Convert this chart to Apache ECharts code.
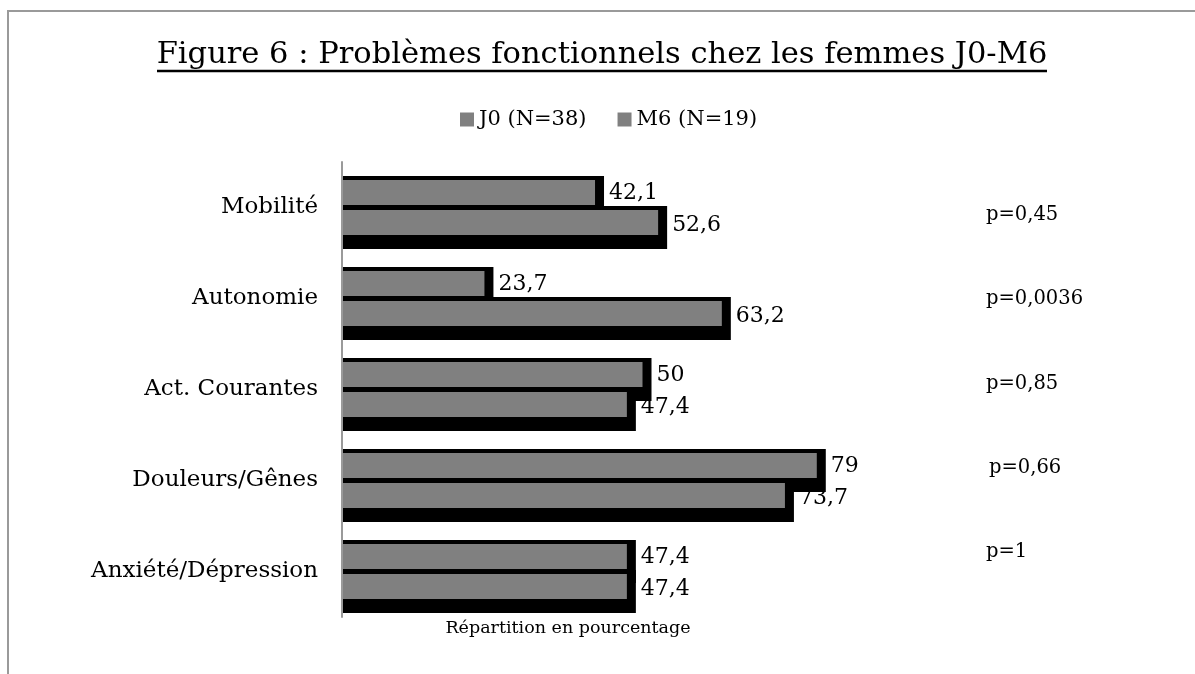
<!DOCTYPE html>
<html>
<head>
<meta charset="utf-8">
<script src="https://cdn.jsdelivr.net/npm/echarts@6/dist/echarts.min.js"></script>
<style>
  html, body { margin: 0; padding: 0; background: #fff; }
  #chart { width: 1195px; height: 674px; }
</style>
</head>
<body>
<div id="chart"></div>
<script>
// catégories (du haut vers le bas)
const categories = ['Mobilité', 'Autonomie', 'Act. Courantes', 'Douleurs/Gênes', 'Anxiété/Dépression'];
const seriesNames = ['J0 (N=38)', 'M6 (N=19)'];
const j0Values = [42.1, 23.7, 50, 79, 47.4];
const m6Values = [52.6, 63.2, 47.4, 73.7, 47.4];
const pValues = ['p=0,45', 'p=0,0036', 'p=0,85', 'p=0,66', 'p=1'];

const FONT = 'DejaVu Serif';

function fmt(v) {
    return String(v).replace('.', ',');
}

// barre grise + "ombre" noire décalée, dessinée avec les échelles de l'axe
function makeRender(idx) {
    return function (params, api) {
        const cat = api.value(1);
        const val = api.value(0);
        const start = api.coord([0, cat]);
        const end = api.coord([val, cat]);
        const band = api.size([0, 1])[1];
        const barH = band * 0.275;
        const off = (idx === 0 ? -1 : 1) * band * 0.165;
        const cy = start[1] + off;
        const y0 = cy - barH / 2;
        const w = end[0] - start[0];
        return {
            type: 'group',
            children: [
                {
                    type: 'rect',
                    shape: { x: start[0], y: y0 - 4, width: w + 9, height: barH + 18 },
                    style: { fill: '#000' }
                },
                {
                    type: 'rect',
                    shape: { x: start[0], y: y0, width: w, height: barH },
                    style: { fill: '#808080' }
                },
                {
                    type: 'text',
                    style: {
                        text: fmt(val),
                        x: end[0] + 14,
                        y: cy + (idx === 0 ? 1 : 3),
                        verticalAlign: 'middle',
                        align: 'left',
                        fill: '#000',
                        font: '22px "' + FONT + '"'
                    },
                    z2: 10
                }
            ]
        };
    };
}

const chart = echarts.init(document.getElementById('chart'));

const pTexts = pValues.map(function (p, i) {
    return {
        type: 'text',
        style: {
            text: p,
            x: i === 3 ? 989 : 986,
            y: 215 + 84.3 * i,
            verticalAlign: 'middle',
            fill: '#000',
            font: '19.5px "' + FONT + '"'
        }
    };
});

chart.setOption({
    backgroundColor: '#fff',
    animation: false,
    legend: {
        left: 455,
        top: 104,
        icon: 'rect',
        itemWidth: 14,
        itemHeight: 14,
        itemGap: 31,
        textStyle: { fontFamily: FONT, fontSize: 21, color: '#000' },
        data: seriesNames.map(function (n) {
            return { name: n, itemStyle: { color: '#808080' } };
        })
    },
    grid: { left: 342, top: 162, width: 601, height: 455 },
    xAxis: {
        type: 'value',
        min: 0,
        max: 100,
        show: false
    },
    yAxis: {
        type: 'category',
        data: categories,
        inverse: true,
        z: 5,
        axisLine: { show: true, lineStyle: { color: '#9a9a9a', width: 2 } },
        axisTick: { show: false },
        axisLabel: { margin: 24, color: '#000', fontFamily: FONT, fontSize: 23 }
    },
    graphic: [
        {
            type: 'rect',
            shape: { x: 8, y: 11, width: 1200, height: 700 },
            style: { fill: 'none', stroke: '#9a9a9a', lineWidth: 2 },
            silent: true
        },
        {
            type: 'text',
            style: {
                text: 'Figure 6 : Problèmes fonctionnels chez les femmes J0-M6',
                x: 602,
                y: 55,
                align: 'center',
                verticalAlign: 'middle',
                fill: '#000',
                font: '30.5px "' + FONT + '"'
            }
        },
        {
            type: 'line',
            shape: { x1: 157, y1: 71, x2: 1047, y2: 71 },
            style: { stroke: '#000', lineWidth: 2.5 }
        },
        {
            type: 'text',
            style: {
                text: 'Répartition en pourcentage',
                x: 568,
                y: 628,
                align: 'center',
                verticalAlign: 'middle',
                fill: '#000',
                font: '17.5px "' + FONT + '"'
            }
        }
    ].concat(pTexts),
    series: [
        {
            name: seriesNames[0],
            type: 'custom',
            itemStyle: { color: '#808080' },
            renderItem: makeRender(0),
            encode: { x: 0, y: 1 },
            data: j0Values.map(function (v, i) { return [v, i]; })
        },
        {
            name: seriesNames[1],
            type: 'custom',
            itemStyle: { color: '#808080' },
            renderItem: makeRender(1),
            encode: { x: 0, y: 1 },
            data: m6Values.map(function (v, i) { return [v, i]; })
        }
    ]
});
</script>
</body>
</html>
